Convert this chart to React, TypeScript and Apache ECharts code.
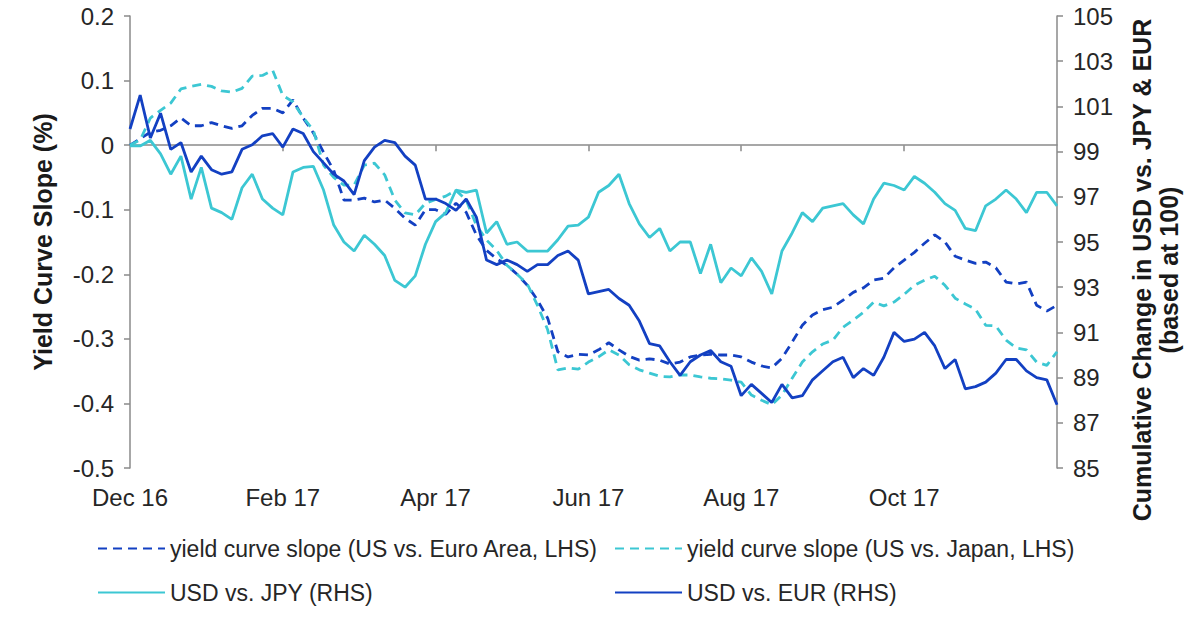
import React, { useEffect, useRef } from "react";
import * as echarts from "echarts";

// ---- axis / category definitions ----
const START_DATE = "2016-12-03";
const STEP_DAYS = 4;
const TICK_DATES = ["2016-12-01", "2017-02-01", "2017-04-01", "2017-06-01", "2017-08-01", "2017-10-01"];
const TICK_LABELS = ["Dec 16", "Feb 17", "Apr 17", "Jun 17", "Aug 17", "Oct 17"];

const SERIES_NAMES = [
  "yield curve slope (US vs. Euro Area, LHS)",
  "yield curve slope (US vs. Japan, LHS)",
  "USD vs. JPY (RHS)",
  "USD vs. EUR (RHS)",
];

// ---- series values (one point every 4 days) ----
const euroSlope = [
  0.0, 0.01, 0.02, 0.023, 0.03, 0.042, 0.03, 0.03, 0.035, 0.03,
  0.026, 0.03, 0.046, 0.057, 0.057, 0.05, 0.07, 0.042, 0.019, -0.011,
  -0.039, -0.085, -0.085, -0.082, -0.088, -0.085, -0.098, -0.113, -0.124, -0.1,
  -0.1, -0.107, -0.09, -0.104, -0.139, -0.163, -0.176, -0.186, -0.2, -0.217,
  -0.24, -0.268, -0.32, -0.328, -0.324, -0.325, -0.317, -0.306, -0.317, -0.327,
  -0.333, -0.331, -0.333, -0.339, -0.336, -0.328, -0.325, -0.324, -0.325, -0.325,
  -0.328, -0.336, -0.342, -0.345, -0.33, -0.305, -0.279, -0.263, -0.255, -0.251,
  -0.24, -0.228, -0.221, -0.209, -0.206, -0.19, -0.178, -0.166, -0.152, -0.139,
  -0.15, -0.172, -0.178, -0.183, -0.181, -0.19, -0.212, -0.215, -0.212, -0.248,
  -0.257, -0.248,
];

const japanSlope = [
  0.0, 0.008, 0.042, 0.054, 0.065, 0.087, 0.091, 0.094, 0.091, 0.084,
  0.082, 0.088, 0.107, 0.108, 0.116, 0.077, 0.067, 0.043, 0.023, -0.031,
  -0.05, -0.062, -0.062, -0.031, -0.028, -0.046, -0.085, -0.105, -0.108, -0.09,
  -0.084, -0.079, -0.07, -0.085, -0.124, -0.147, -0.163, -0.186, -0.2, -0.215,
  -0.248, -0.286, -0.348, -0.345, -0.347, -0.336, -0.328, -0.317, -0.325, -0.34,
  -0.348, -0.353, -0.358, -0.359, -0.356, -0.356, -0.359, -0.361, -0.362, -0.364,
  -0.367, -0.387, -0.395, -0.402, -0.387, -0.361, -0.336, -0.32, -0.308, -0.302,
  -0.282, -0.271, -0.259, -0.243, -0.249, -0.243, -0.231, -0.217, -0.209, -0.203,
  -0.217, -0.237, -0.246, -0.254, -0.279, -0.28, -0.302, -0.314, -0.317, -0.336,
  -0.341, -0.32,
];

const usdJpy = [
  99.25, 99.25, 99.5, 98.9, 98.0, 98.8, 96.9, 98.3, 96.5, 96.3,
  96.0, 97.4, 98.0, 96.9, 96.5, 96.2, 98.1, 98.3, 98.35, 97.3,
  95.75, 95.0, 94.6, 95.3, 94.9, 94.4, 93.3, 93.0, 93.5, 94.9,
  95.9, 96.3, 97.3, 97.2, 97.3, 95.4, 95.9, 94.9, 95.0, 94.6,
  94.6, 94.6, 95.1, 95.7, 95.75, 96.1, 97.2, 97.5, 98.0, 96.7,
  95.8, 95.2, 95.6, 94.6, 95.0, 95.0, 93.6, 94.9, 93.2, 93.85,
  93.5, 94.3, 93.7, 92.7, 94.6, 95.4, 96.3, 95.9, 96.5, 96.6,
  96.7, 96.2, 95.8, 96.9, 97.6, 97.5, 97.3, 97.9, 97.6, 97.2,
  96.7, 96.4, 95.6, 95.5, 96.6, 96.9, 97.3, 96.9, 96.3, 97.2,
  97.2, 96.6,
];

const usdEur = [
  100.0, 101.5, 99.6, 100.7, 99.1, 99.4, 98.1, 98.8, 98.2, 98.0,
  98.1, 99.1, 99.3, 99.7, 99.8, 99.2, 100.0, 99.8, 99.0, 98.5,
  98.0, 97.7, 97.1, 98.6, 99.2, 99.5, 99.4, 98.8, 98.4, 96.9,
  96.9, 96.7, 96.4, 96.9, 96.1, 94.2, 94.0, 94.2, 94.0, 93.7,
  94.0, 94.0, 94.4, 94.6, 94.2, 92.7, 92.8, 92.9, 92.5, 92.2,
  91.5, 90.5, 90.4, 89.7, 89.1, 89.7, 90.0, 90.2, 89.7, 89.5,
  88.2, 88.7, 88.3, 87.9, 88.7, 88.1, 88.2, 88.9, 89.3, 89.7,
  89.9, 89.0, 89.4, 89.1, 89.9, 91.0, 90.6, 90.7, 91.0, 90.4,
  89.4, 89.8, 88.5, 88.6, 88.8, 89.2, 89.8, 89.8, 89.3, 89.0,
  88.9, 87.8,
];

// ---- styling ----
const DARK_BLUE = "#1340C2";
const CYAN = "#3CC7D3";
const AXIS_COLOR = "#8a8a8a";
const TEXT_COLOR = "#262626";
const FONT = "'Liberation Sans', Arial, Helvetica, sans-serif";
const DAY_MS = 86400000;

function buildCategories(count: number): string[] {
  const start = Date.parse(START_DATE);
  const out: string[] = [];
  for (let i = 0; i < count; i++) {
    out.push(new Date(start + i * STEP_DAYS * DAY_MS).toISOString().slice(0, 10));
  }
  return out;
}

function buildTickMap(count: number): Map<number, string> {
  const start = Date.parse(START_DATE);
  const m = new Map<number, string>();
  TICK_DATES.forEach((d, k) => {
    const days = (Date.parse(d) - start) / DAY_MS;
    const idx = Math.min(count - 1, Math.max(0, Math.round(days / STEP_DAYS)));
    m.set(idx, TICK_LABELS[k]);
  });
  return m;
}

export default function App() {
  const ref = useRef<HTMLDivElement>(null);

  useEffect(() => {
    if (!ref.current) return;
    const chart = echarts.init(ref.current, undefined, { renderer: "svg" });
    const categories = buildCategories(usdEur.length);
    const tickMap = buildTickMap(usdEur.length);

    const axisLineStyle = { color: AXIS_COLOR, width: 1.5 };
    const labelStyle = { fontSize: 24, color: TEXT_COLOR, fontFamily: FONT };

    const legendBase = {
      itemWidth: 67,
      itemHeight: 14,
      padding: 0,
      selectedMode: false,
      itemStyle: { opacity: 0, borderWidth: 0 },
      textStyle: { fontSize: 23, color: TEXT_COLOR, fontFamily: FONT },
    };

    const option: any = {
      animation: false,
      backgroundColor: "#ffffff",
      grid: { left: 130, right: 143, top: 16, bottom: 152 },
      xAxis: [
        {
          type: "category",
          data: categories,
          boundaryGap: false,
          position: "bottom",
          axisLine: { show: true, onZero: true, onZeroAxisIndex: 0, lineStyle: axisLineStyle },
          axisTick: {
            show: true,
            length: 6,
            interval: (i: number) => tickMap.has(i) && i !== 0,
            lineStyle: axisLineStyle,
          },
          axisLabel: { show: false },
          splitLine: { show: false },
        },
        {
          type: "category",
          data: categories,
          boundaryGap: false,
          position: "bottom",
          axisLine: { show: false, onZero: false },
          axisTick: { show: false },
          axisLabel: {
            ...labelStyle,
            margin: 17,
            interval: (i: number) => tickMap.has(i),
            formatter: (_v: string, i: number) => tickMap.get(i) ?? "",
          },
          splitLine: { show: false },
        },
      ],
      yAxis: [
        {
          type: "value",
          position: "left",
          min: -0.5,
          max: 0.2,
          interval: 0.1,
          axisLine: { show: true, lineStyle: axisLineStyle },
          axisTick: { show: true, length: 6, lineStyle: axisLineStyle },
          splitLine: { show: false },
          axisLabel: {
            ...labelStyle,
            margin: 16,
            formatter: (v: number) => String(Number(v.toFixed(1))),
          },
        },
        {
          type: "value",
          position: "right",
          min: 85,
          max: 105,
          interval: 2,
          axisLine: { show: true, lineStyle: axisLineStyle },
          axisTick: { show: true, length: 6, lineStyle: axisLineStyle },
          splitLine: { show: false },
          axisLabel: { ...labelStyle, margin: 16 },
        },
      ],
      legend: [
        { ...legendBase, data: [SERIES_NAMES[0]], left: 97, top: 537 },
        { ...legendBase, data: [SERIES_NAMES[1]], left: 614, top: 537 },
        { ...legendBase, data: [SERIES_NAMES[2]], left: 97, top: 581 },
        { ...legendBase, data: [SERIES_NAMES[3]], left: 614, top: 581 },
      ],
      series: [
        {
          name: SERIES_NAMES[0],
          type: "line",
          xAxisIndex: 0,
          yAxisIndex: 0,
          data: euroSlope,
          symbol: "none",
          showSymbol: false,
          itemStyle: { color: DARK_BLUE },
          lineStyle: { color: DARK_BLUE, width: 2.8, type: [9, 6] },
          z: 2,
        },
        {
          name: SERIES_NAMES[1],
          type: "line",
          xAxisIndex: 0,
          yAxisIndex: 0,
          data: japanSlope,
          symbol: "none",
          showSymbol: false,
          itemStyle: { color: CYAN },
          lineStyle: { color: CYAN, width: 2.8, type: [9, 6] },
          z: 2,
        },
        {
          name: SERIES_NAMES[2],
          type: "line",
          xAxisIndex: 0,
          yAxisIndex: 1,
          data: usdJpy,
          symbol: "none",
          showSymbol: false,
          itemStyle: { color: CYAN },
          lineStyle: { color: CYAN, width: 2.8 },
          z: 3,
        },
        {
          name: SERIES_NAMES[3],
          type: "line",
          xAxisIndex: 0,
          yAxisIndex: 1,
          data: usdEur,
          symbol: "none",
          showSymbol: false,
          itemStyle: { color: DARK_BLUE },
          lineStyle: { color: DARK_BLUE, width: 2.8 },
          z: 4,
        },
      ],
      graphic: [
        {
          type: "text",
          x: 43,
          y: 242,
          rotation: Math.PI / 2,
          style: {
            text: "Yield Curve Slope (%)",
            fontSize: 25,
            fontWeight: "bold",
            fontFamily: FONT,
            fill: "#1a1a1a",
            align: "center",
            verticalAlign: "middle",
          },
        },
        {
          type: "text",
          x: 1155,
          y: 270,
          rotation: Math.PI / 2,
          style: {
            text: "Cumulative Change in USD vs. JPY & EUR\n(based at 100)",
            fontSize: 25,
            fontWeight: "bold",
            fontFamily: FONT,
            lineHeight: 27,
            fill: "#1a1a1a",
            align: "center",
            verticalAlign: "middle",
          },
        },
      ],
    };

    chart.setOption(option);
    return () => chart.dispose();
  }, []);

  return (
    <div
      ref={ref}
      style={{ position: "fixed", left: 0, top: 0, width: 1200, height: 620, background: "#fff" }}
    />
  );
}
